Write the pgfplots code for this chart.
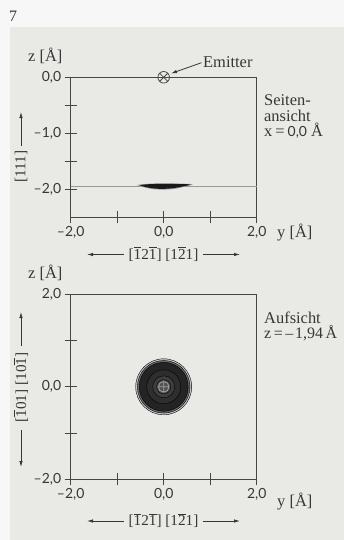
\documentclass[border=0pt]{standalone}
\usepackage{fontspec}
\setmainfont{Liberation Serif}
\newfontfamily\ticksans{Lato}
\usepackage{pgfplots}
\pgfplotsset{compat=1.18}
\usetikzlibrary{arrows.meta,plotmarks}
\definecolor{pagebg}{RGB}{233,233,230}
\definecolor{ink}{RGB}{55,55,55}
\definecolor{axisc}{RGB}{70,70,70}
\newcommand\ob[1]{$\overline{\mbox{#1}}$}
\newcommand\fs{\fontsize{16.5}{16.5}\selectfont}
\newcommand\fsl{\fontsize{15.3}{15.3}\selectfont}
\pgfplotsset{myax/.style={
  scale only axis, width=186bp,
  axis line style={axisc, line width=1.2bp},
  tick style={axisc, line width=1bp},
  tick align=center, major tick length=12bp,
  tick pos=left,
  xtick={-2,-1,0,1,2},
  xticklabels={{–2,0},{},{0,0},{},{2,0}},
  tick label style={font=\ticksans\fontsize{14}{15}\selectfont, text=ink},
  clip=false,
}}
\begin{document}
\begin{tikzpicture}
\path[use as bounding box] (0,0) rectangle (344bp,-540bp);
\fill[white!97!black] (0,0) rectangle (344bp,-540bp);
\fill[pagebg] (10bp,-27bp) rectangle (344bp,-540bp);

% ---------- top: Seitenansicht ----------
\begin{axis}[myax, at={(70.7bp,-77.3bp)}, anchor=north west, height=140bp,
  xmin=-2, xmax=2, ymin=-2.5, ymax=0,
  ytick={-2,-1.5,-1,-0.5,0},
  yticklabels={{–2,0},{},{–1,0},{},{0,0}}]
\addplot[black!40, line width=0.6bp] coordinates {(-2,-1.94) (2,-1.94)};
\addplot[fill=black!40, draw=none, smooth, tension=0.6] coordinates {
  (-0.58,-1.922) (-0.3,-1.9) (0,-1.895) (0.3,-1.898) (0.62,-1.91)
  (0.45,-1.952) (0.25,-1.99) (0,-2.005) (-0.25,-1.995) (-0.45,-1.958) (-0.58,-1.922)};
\addplot[fill=black!90, draw=none, smooth, tension=0.6] coordinates {
  (-0.52,-1.925) (-0.3,-1.908) (0,-1.903) (0.3,-1.905) (0.57,-1.915)
  (0.42,-1.948) (0.22,-1.978) (0,-1.992) (-0.22,-1.984) (-0.42,-1.954) (-0.52,-1.925)};
\addplot[only marks, mark=otimes, mark size=5.8bp, mark options={axisc, line width=0.8bp}] coordinates {(0,0)};
\end{axis}

% ---------- bottom: Aufsicht ----------
\begin{axis}[myax, at={(70.7bp,-294.3bp)}, anchor=north west, height=185bp,
  xmin=-2, xmax=2, ymin=-2, ymax=2,
  ytick={-2,-1,0,1,2},
  yticklabels={{–2,0},{},{0,0},{},{2,0}}]
\addplot[only marks, mark=*, mark size=28bp, mark options={draw=none, fill=black!22}] coordinates {(0,0)};
\addplot[only marks, mark=*, mark size=26.3bp, mark options={draw=none, fill=black!58}] coordinates {(0,0)};
\addplot[only marks, mark=*, mark size=24.5bp, mark options={draw=none, fill=black!86}] coordinates {(0,0)};
\addplot[only marks, mark=*, mark size=17bp, mark options={draw=none, fill=black!82}] coordinates {(0,0)};
\addplot[only marks, mark=*, mark size=11bp, mark options={draw=none, fill=black!76}] coordinates {(0,0)};
\addplot[only marks, mark=*, mark size=7bp, mark options={draw=none, fill=black!68}] coordinates {(0,0)};
\addplot[only marks, mark=oplus, mark size=5.3bp, mark options={black!38, line width=0.8bp}] coordinates {(0,0)};
\end{axis}

% ---------- annotations ----------
\begin{scope}[x=1bp, y=-1bp, every node/.style={text=ink, inner sep=0pt}]
\node[anchor=base west, font=\fontsize{16}{16}\selectfont] at (9,21) {7};
% top plot
\node[anchor=base west, font=\fs] at (28,61.5) {z [Å]};
\node[anchor=base west, font=\fs] at (277,237) {y [Å]};
\node[anchor=base west, font=\fs] at (203,67) {Emitter};
\draw[ink, line width=0.8bp, -{Latex[length=6bp,width=3.5bp]}] (201.5,62.7) -- (171,73.5);
\node[anchor=base west, font=\fs] at (264,105) {Seiten-};
\node[anchor=base west, font=\fs] at (264,121) {ansicht};
\node[anchor=base west, font=\fs] at (264,136.5) {x\hspace{3bp}=\hspace{3bp}{\ticksans\fontsize{14}{15}\selectfont 0,0} Å};
\node[font=\fsl] at (163.5,254) {[\ob{1}2\ob{1}] [1\ob{2}1]};
\draw[ink, line width=0.8bp, -{Latex[length=6bp,width=3.5bp]}] (124,254.5) -- (87,254.5);
\draw[ink, line width=0.8bp, -{Latex[length=6bp,width=3.5bp]}] (203,254.5) -- (240,254.5);
\node[rotate=90, font=\fsl] at (21,166.5) {[111]};
\draw[ink, line width=0.8bp, -{Latex[length=6bp,width=3.5bp]}] (21,146) -- (21,112);
% bottom plot
\node[anchor=base west, font=\fs] at (28,278) {z [Å]};
\node[anchor=base west, font=\fs] at (277,506.5) {y [Å]};
\node[anchor=base west, font=\fs] at (264,323.5) {Aufsicht};
\node[anchor=base west, font=\fontsize{16}{16}\selectfont] at (264,338) {z\hspace{2.5bp}=\hspace{2.5bp}–\hspace{2bp}1,94\hspace{2.5bp}Å};
\node[font=\fsl] at (163.5,520.5) {[\ob{1}2\ob{1}] [1\ob{2}1]};
\draw[ink, line width=0.8bp, -{Latex[length=6bp,width=3.5bp]}] (124,521) -- (87,521);
\draw[ink, line width=0.8bp, -{Latex[length=6bp,width=3.5bp]}] (203,521) -- (240,521);
\node[rotate=90, font=\fsl] at (21,387.5) {[\ob{1}01] [10\ob{1}]};
\draw[ink, line width=0.8bp, -{Latex[length=6bp,width=3.5bp]}] (21,346) -- (21,312);
\draw[ink, line width=0.8bp, -{Latex[length=6bp,width=3.5bp]}] (21,430) -- (21,467);
\end{scope}
\end{tikzpicture}
\end{document}
